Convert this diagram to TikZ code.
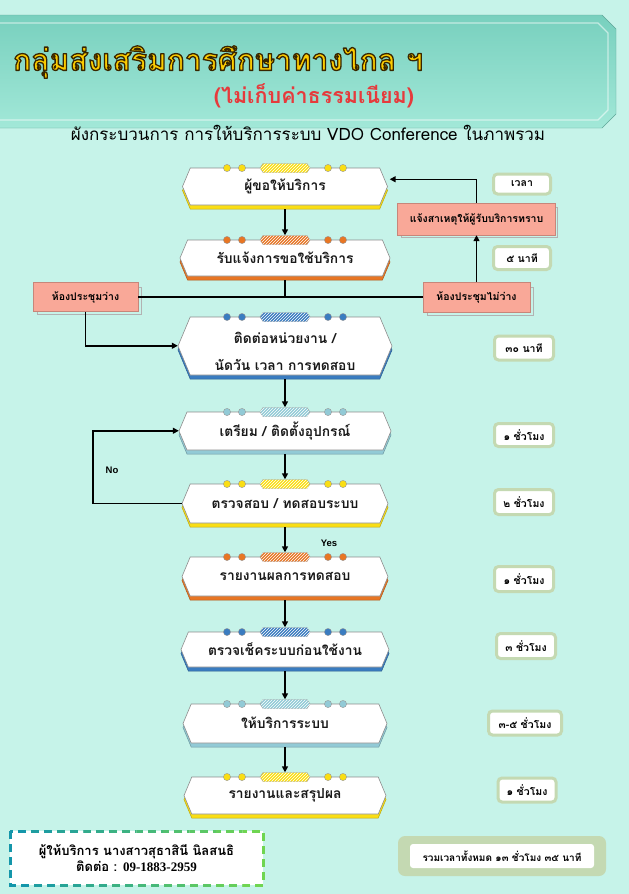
\documentclass[tikz,border=0pt]{standalone}
\usepackage{fontspec}
\newfontfamily\thai[Script=Thai]{Loma}
\newfontfamily\serifl{Liberation Serif}
\newfontfamily\sansl{Liberation Sans}
\usetikzlibrary{arrows.meta,calc,patterns}
\definecolor{bg}{RGB}{198,243,233}
\definecolor{bannerA}{RGB}{120,208,190}
\definecolor{bannerB}{RGB}{162,232,216}
\definecolor{cyel}{RGB}{250,222,20}
\definecolor{cora}{RGB}{232,118,36}
\definecolor{cblu}{RGB}{58,124,192}
\definecolor{clbl}{RGB}{146,202,214}
\definecolor{salmon}{RGB}{249,168,152}
\definecolor{sage}{RGB}{196,217,178}
\definecolor{gold}{RGB}{252,204,0}
\definecolor{tred}{RGB}{230,58,60}
\definecolor{tealA}{RGB}{20,150,170}
\definecolor{greenB}{RGB}{112,214,80}
\newcommand\outlinetext[1]{\special{pdf:literal direct 1 j 1.3 w 0.22 0.15 0 RG 2 Tr}#1\special{pdf:literal direct 0 Tr}}
\newcommand\procbox[7]{% name, L, T, R, B, colour, text
  \pgfmathsetmacro\PBc{0.21*(#5-#3)}%
  \pgfmathsetmacro\PBm{(#3+#5)/2}%
  \pgfmathsetmacro\PBx{(#2+#4)/2}%
  \pgfmathsetmacro\PBw{#4-#2}%
  \pgfmathsetmacro\PBh{(#5+4)-(#3-4.5)}%
  \pgfmathsetmacro\PBy{((#3-4.5)+(#5+4))/2}%
  \filldraw[fill=#6, draw=#6!75!black, line width=0.5pt]
    (#2,\PBm+4) -- (#2+\PBc,#3+4) -- (#4-\PBc,#3+4) -- (#4,\PBm+4) -- (#4-\PBc,#5+4) -- (#2+\PBc,#5+4) -- cycle;
  \filldraw[fill=white, draw=black!45, line width=0.6pt]
    (#2,\PBm) -- (#2+\PBc,#3) -- (#4-\PBc,#3) -- (#4,\PBm) -- (#4-\PBc,#5) -- (#2+\PBc,#5) -- cycle;
  \foreach \dx in {-58,-43,43,58}
    \filldraw[fill=#6, draw=black!40, line width=0.4pt] (\PBx+\dx,#3) circle[radius=3.6];
  \filldraw[fill=#6, draw=black!40, line width=0.4pt]
    (\PBx-25,#3) -- (\PBx-22,#3-4.5) -- (\PBx+22,#3-4.5) -- (\PBx+25,#3) -- (\PBx+22,#3+4.5) -- (\PBx-22,#3+4.5) -- cycle;
  \fill[pattern=north east lines, pattern color=white]
    (\PBx-25,#3) -- (\PBx-22,#3-4.5) -- (\PBx+22,#3-4.5) -- (\PBx+25,#3) -- (\PBx+22,#3+4.5) -- (\PBx-22,#3+4.5) -- cycle;
  \node[procnode, minimum width=\PBw pt, minimum height=\PBh pt] (#1) at (\PBx,\PBy) {#7};
}
\tikzset{
  procnode/.style={inner sep=0pt, align=center, text=black!90, font=\thai\bfseries\fontsize{13.8}{16}\selectfont},
  arr/.style={line width=1.5pt, -{Triangle[length=6pt,width=6pt]}},
  plain/.style={line width=1.5pt},
  timebox/.style={draw=sage, line width=3pt, fill=white, rounded corners=4pt, inner sep=0pt,
    minimum width=57pt, minimum height=23pt, font=\thai\bfseries\fontsize{10.5}{12}\selectfont},
  pinkbox/.style={fill=salmon, draw=salmon!80!black, line width=0.4pt, inner sep=0pt,
    font=\thai\bfseries\fontsize{10.5}{12}\selectfont},
  titlefont/.style={font=\thai\bfseries\fontsize{30}{36}\selectfont, inner sep=0pt, anchor=west},
  lab/.style={font=\sansl\bfseries\fontsize{9.5}{11}\selectfont, inner sep=0pt}
}
\begin{document}
\begin{tikzpicture}[x=1pt,y=-1pt]
\useasboundingbox (0,0) rectangle (629,894);
\fill[bg] (0,0) rectangle (629,894);
% banner
\shade[top color=bannerA, bottom color=bannerB, draw=bannerA!80!black, line width=0.4pt]
  (-2,15) -- (602,15) -- (616,29) -- (616,114) -- (602,128) -- (-2,128) -- cycle;
\draw[white, opacity=0.55, line width=1.3pt]
  (-2,23) -- (598,23) -- (608,33) -- (608,110) -- (598,120) -- (-2,120);
% title
\node[titlefont, text=gold] (title) at (13,62) {\outlinetext{กลุ่มส่งเสริมการศึกษาทางไกล ฯ}};
\node[font=\thai\bfseries\fontsize{21.5}{25}\selectfont, text=tred, inner sep=0pt] (fee) at (314,96) {(ไม่เก็บค่าธรรมเนียม)};
\node[font=\thai\fontsize{17}{20}\selectfont, inner sep=0pt] (sub) at (308,133) {ผังกระบวนการ การให้บริการระบบ VDO Conference ในภาพรวม};
% process boxes
\procbox{b1}{182.5}{168}{387.5}{205}{cyel}{ผู้ขอให้บริการ}
\procbox{b2}{180}{240}{390}{276}{cora}{รับแจ้งการขอใช้บริการ}
\procbox{b3}{178}{317}{392}{375}{cblu}{\raisebox{0pt}[\dimexpr\height+15pt\relax][\depth]{\begin{tabular}{@{}c@{}}ติดต่อหน่วยงาน /\\[11pt]นัดวัน เวลา การทดสอบ\end{tabular}}}
\procbox{b4}{179}{412}{391}{450}{clbl}{เตรียม / ติดตั้งอุปกรณ์}
\procbox{b5}{182}{484}{388}{523}{cyel}{ตรวจสอบ / ทดสอบระบบ}
\procbox{b6}{182}{557}{388}{596}{cora}{รายงานผลการทดสอบ}
\procbox{b7}{181}{632}{389}{667}{cblu}{ตรวจเช็คระบบก่อนใช้งาน}
\procbox{b8}{183}{704}{387}{743}{clbl}{ให้บริการระบบ}
\procbox{b9}{184}{777}{386}{814}{cyel}{รายงานและสรุปผล}
% pink boxes
\draw[black!30, line width=0.5pt] (37,287) rectangle (141,314);
\node[pinkbox, minimum width=105pt, minimum height=29pt] (avail) at (85.5,297) {ห้องประชุมว่าง};
\draw[black!30, line width=0.5pt] (427,287) rectangle (533,315);
\node[pinkbox, minimum width=107pt, minimum height=30pt] (navail) at (476.5,297) {ห้องประชุมไม่ว่าง};
\draw[black!30, line width=0.5pt] (401,207) rectangle (557,237);
\node[pinkbox, minimum width=158pt, minimum height=32pt] (nsa) at (476.5,219) {แจ้งสาเหตุให้ผู้รับบริการทราบ};
% time boxes
\node[timebox, minimum height=20pt] (t0) at (522,184) {เวลา};
\node[timebox] (t1) at (522,258) {๕ นาที};
\node[timebox, minimum width=59pt, minimum height=24pt] (t2) at (524,348) {๓๐ นาที};
\node[timebox, minimum width=59pt] (t3) at (524,435) {๑ ชั่วโมง};
\node[timebox, minimum width=59pt, minimum height=25pt] (t4) at (524,502) {๒ ชั่วโมง};
\node[timebox, minimum width=59pt, minimum height=25pt] (t5) at (524,579) {๑ ชั่วโมง};
\node[timebox, minimum width=59pt, minimum height=25pt] (t6) at (526,646) {๓ ชั่วโมง};
\node[timebox, minimum width=73pt, minimum height=24pt] (t7) at (525,723) {๓-๕ ชั่วโมง};
\node[timebox, minimum width=58pt, minimum height=24pt] (t8) at (527,790) {๑ ชั่วโมง};
% connectors
\draw[arr] (b1.south) -- (b2.north);
\draw[plain] (b2.south) -- (b2.south |- avail.east);
\draw[plain] (avail.east) -- (navail.west);
\draw[arr] (avail.south) |- (b3.west);
\draw[arr] (navail.north) -- (navail.north |- nsa.south);
\draw[arr] (nsa.north) |- ([yshift=7pt,xshift=2pt]b1.east);
\draw[arr] (b3.south) -- (b4.north);
\draw[arr] (b4.south) -- (b5.north);
\draw[arr] (b5.south) -- (b6.north);
\draw[arr] (b6.south) -- (b7.north);
\draw[arr] (b7.south) -- (b8.north);
\draw[arr] (b8.south) -- (b9.north);
\draw[arr] (b5.west) -- ++(-89,0) |- (b4.west);
\node[lab] (no) at (112,470) {No};
\node[lab] (yes) at (329,543) {Yes};
% contact box with gradient dashed frame
\fill[white] (10,831) rectangle (263,885);
\foreach \i in {0,...,9}{
  \pgfmathsetmacro\mixv{100-\i*11}
  \begin{scope}
    \clip (4+\i*26.5,820) rectangle (4+\i*26.5+26.6,894);
    \draw[tealA!\mixv!greenB, line width=3pt, dash pattern=on 8pt off 5pt] (10,831) rectangle (263,885);
  \end{scope}
}
\node[font=\thai\bfseries\fontsize{13}{16}\selectfont, align=center, inner sep=0pt] (contact) at (136.5,858)
  {ผู้ให้บริการ นางสาวสุธาสินี นิลสนธิ\\ติดต่อ : {\serifl\bfseries 09-1883-2959}};
% total box
\fill[sage, rounded corners=7pt] (398,836) rectangle (606,876);
\node[fill=white, rounded corners=3pt, minimum width=184pt, minimum height=24pt, inner sep=0pt,
  font=\thai\bfseries\fontsize{10}{12}\selectfont] (total) at (502,856) {รวมเวลาทั้งหมด ๑๓ ชั่วโมง ๓๕ นาที};
\end{tikzpicture}
\end{document}
